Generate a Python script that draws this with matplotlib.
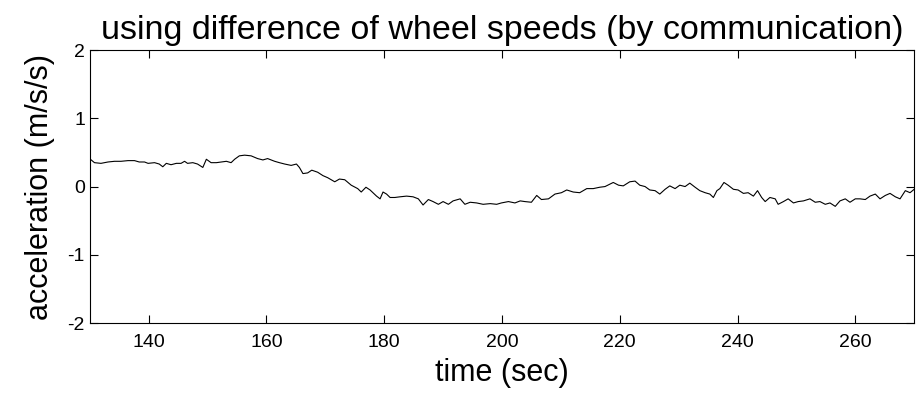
import matplotlib.pyplot as plt

# acceleration estimated from the difference of wheel speeds
t_sec = [130.1, 130.8, 131.9, 133.1, 134.2, 135.3, 136.5, 137.6, 138.4, 139.3,
         139.9, 141.0, 141.8, 142.4, 143.0, 143.8, 144.7, 145.5, 146.1, 146.6,
         147.5, 148.3, 149.2, 149.8, 150.6, 151.5, 152.3, 153.2, 154.0, 154.6,
         155.4, 156.3, 157.4, 158.5, 159.4, 160.2, 161.4, 162.2, 163.1, 164.2,
         165.1, 165.6, 166.2, 167.0, 167.7, 168.7, 169.6, 170.4, 171.6, 172.4,
         173.3, 174.4, 175.5, 176.1, 176.9,
         177.6, 178.1, 178.7, 179.3, 179.8, 180.4, 181.0, 181.8, 182.7, 183.8,
         184.9, 185.8, 186.6, 187.5, 188.3, 189.2, 190.0, 190.9, 191.7, 192.9,
         193.7, 194.6, 195.7, 196.8, 198.0, 199.1, 199.9, 201.1, 202.2, 203.1,
         203.9, 205.0, 205.9, 206.7, 207.9, 209.0, 210.1, 211.0, 212.1, 213.2,
         214.4, 215.5, 216.6, 217.5, 218.9, 219.8, 220.6, 221.7, 222.6, 223.4,
         224.3, 225.1, 226.0, 226.8, 227.7, 228.5, 229.4, 230.2, 231.1, 231.9,
         232.8, 233.6, 234.5, 235.3, 235.9, 236.5, 237.0, 237.7, 238.4, 239.3,
         240.1, 241.0, 241.8, 242.7, 243.4, 244.1, 244.7, 245.5, 246.4, 246.9,
         247.8, 248.6, 249.5, 250.3, 251.2, 252.3, 253.2, 254.0, 254.9, 255.7,
         256.6, 257.4, 258.3, 259.1, 260.0, 260.8, 261.7, 262.5, 263.4, 264.2,
         265.1, 265.9, 266.8, 267.6, 268.5, 269.3, 270.0]
accel = [0.40, 0.35, 0.34, 0.36, 0.37, 0.37, 0.38, 0.38, 0.36, 0.36,
         0.34, 0.35, 0.33, 0.29, 0.34, 0.32, 0.34, 0.34, 0.37, 0.34,
         0.35, 0.33, 0.28, 0.40, 0.35, 0.35, 0.36, 0.37, 0.35, 0.40,
         0.45, 0.46, 0.45, 0.41, 0.39, 0.41, 0.37, 0.35, 0.33, 0.31,
         0.33, 0.28, 0.19, 0.20, 0.24, 0.21, 0.16, 0.13, 0.07, 0.11,
         0.10, 0.02, -0.03, -0.08, -0.01,
         -0.05, -0.09, -0.14, -0.18, -0.08, -0.11, -0.16, -0.16, -0.15, -0.14,
         -0.15, -0.18, -0.27, -0.19, -0.22, -0.26, -0.22, -0.26, -0.21, -0.18,
         -0.26, -0.23, -0.24, -0.26, -0.25, -0.26, -0.24, -0.22, -0.24, -0.21,
         -0.22, -0.23, -0.13, -0.19, -0.18, -0.11, -0.09, -0.05, -0.08, -0.09,
         -0.03, -0.03, -0.01, 0.00, 0.06, 0.02, 0.01, 0.07, 0.08, 0.02,
         0.00, -0.05, -0.06, -0.11, -0.04, 0.01, -0.03, 0.02, 0.00, 0.05,
         -0.01, -0.06, -0.09, -0.11, -0.16, -0.06, -0.03, 0.06, 0.02, -0.04,
         -0.05, -0.10, -0.09, -0.14, -0.06, -0.16, -0.22, -0.16, -0.18, -0.26,
         -0.22, -0.18, -0.24, -0.22, -0.21, -0.18, -0.23, -0.22, -0.26, -0.24,
         -0.29, -0.21, -0.18, -0.23, -0.18, -0.18, -0.19, -0.14, -0.11, -0.18,
         -0.13, -0.10, -0.15, -0.18, -0.06, -0.09, -0.04]

xticks = [140, 160, 180, 200, 220, 240, 260]
yticks = [-2, -1, 0, 1, 2]

plt.rcParams['font.family'] = ['Liberation Sans', 'DejaVu Sans']
plt.rcParams['axes.unicode_minus'] = False

fig = plt.figure(figsize=(9.16, 3.94), dpi=100)
ax = fig.add_axes([0.098, 0.18, 0.9, 0.693])

ax.plot(t_sec, accel, color='black', linewidth=0.8)

ax.set_xlim(130, 270)
ax.set_ylim(-2, 2)
ax.set_xticks(xticks)
ax.set_yticks(yticks)
ax.tick_params(direction='in', top=True, right=True, length=6, labelsize=14)
ax.tick_params(axis='x', pad=8)
for side in ax.spines.values():
    side.set_linewidth(0.8)

ax.set_title('using difference of wheel speeds (by communication)', fontsize=24.5, pad=8)
ax.set_xlabel('time (sec)', fontsize=22, labelpad=5)
ax.set_ylabel('acceleration (m/s/s)', fontsize=22, labelpad=9)

fig.savefig('out.png', dpi=100)
